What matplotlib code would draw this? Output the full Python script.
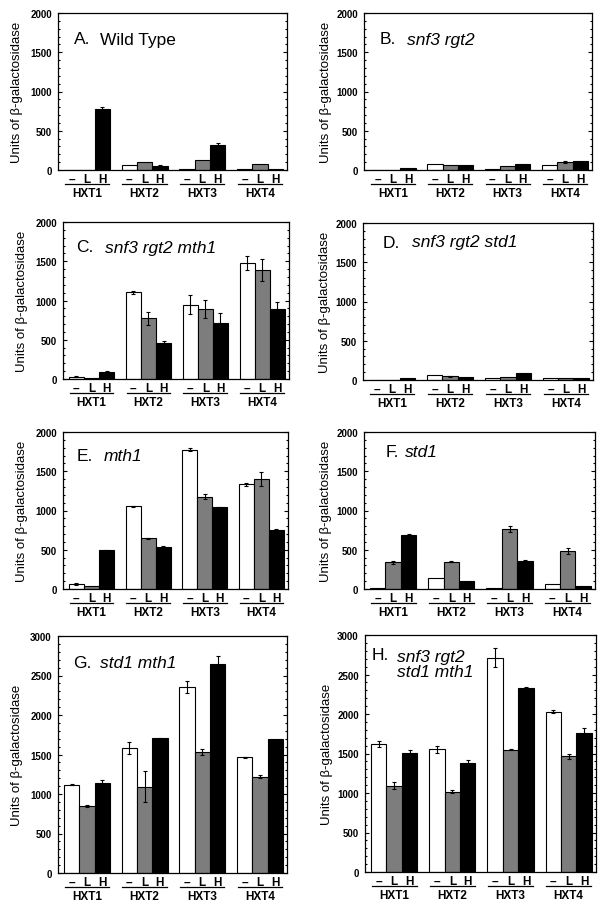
import numpy as np
import matplotlib
matplotlib.use("Agg")
import matplotlib.pyplot as plt
from matplotlib import transforms
from matplotlib.ticker import MultipleLocator

plt.rcParams['font.family'] = ['Liberation Sans', 'DejaVu Sans']

FIG_W, FIG_H = 606, 912

genes = ["HXT1", "HXT2", "HXT3", "HXT4"]
conditions = ["–", "L", "H"]
bar_colors = ["white", "#7d7d7d", "black"]
ylabel = "Units of β-galactosidase"

# rows = genes, cols = (-, L, H)
wt_vals = [[6, 6, 780], [64, 98, 51], [8, 132, 323], [8, 72, 10]]
wt_err = [[0, 0, 28], [0, 0, 10], [0, 0, 25], [0, 0, 0]]

sr_vals = [[0, 0, 20], [82, 62, 62], [10, 50, 80], [58, 98, 118]]
sr_err = [[0, 0, 0], [0, 0, 0], [0, 0, 0], [0, 12, 0]]

srm_vals = [[30, 15, 89], [1102, 771, 462], [949, 894, 716], [1479, 1390, 894]]
srm_err = [[8, 0, 8], [20, 85, 20], [127, 118, 127], [89, 136, 85]]

srs_vals = [[0, 0, 25], [60, 47, 43], [21, 43, 85], [21, 25, 25]]
srs_err = [[0, 0, 0], [0, 10, 0], [0, 0, 0], [0, 0, 0]]

mth_vals = [[59, 34, 491], [1055, 644, 534], [1775, 1178, 1042], [1335, 1402, 754]]
mth_err = [[12, 0, 10], [8, 8, 20], [15, 30, 8], [20, 90, 8]]

std_vals = [[15, 339, 682], [140, 347, 97], [15, 763, 356], [59, 483, 34]]
std_err = [[0, 15, 20], [0, 8, 0], [0, 40, 10], [0, 40, 0]]

sm_vals = [[1120, 846, 1133], [1577, 1090, 1704], [2351, 1535, 2647], [1463, 1218, 1691]]
sm_err = [[10, 15, 40], [76, 195, 10], [75, 40, 95], [8, 20, 0]]

all_vals = [[1624, 1094, 1509], [1552, 1018, 1378], [2714, 1548, 2332], [2031, 1463, 1764]]
all_err = [[40, 40, 35], [45, 20, 35], [120, 10, 15], [15, 30, 55]]

# letter, genotype, values, errors, ymax, axes box in px (left, top, right, bottom),
# title offsets in px (letter x, name x, y below top)
panels = [
    ("A.", "Wild Type", False, wt_vals, wt_err, 2000, (58, 14, 287, 171), (16, 42, 26)),
    ("B.", "snf3 rgt2", True, sr_vals, sr_err, 2000, (364, 14, 592, 171), (16, 43, 26)),
    ("C.", "snf3 rgt2 mth1", True, srm_vals, srm_err, 2000, (63, 223, 289, 380), (13, 42, 25)),
    ("D.", "snf3 rgt2 std1", True, srs_vals, srs_err, 2000, (363, 224, 593, 381), (20, 49, 19)),
    ("E.", "mth1", True, mth_vals, mth_err, 2000, (63, 433, 288, 590), (14, 41, 24)),
    ("F.", "std1", True, std_vals, std_err, 2000, (364, 433, 595, 590), (22, 41, 20)),
    ("G.", "std1 mth1", True, sm_vals, sm_err, 3000, (58, 637, 287, 874), (15, 42, 26)),
    ("H.", "snf3 rgt2\nstd1 mth1", True, all_vals, all_err, 3000, (365, 636, 596, 873), (7, 32, 29)),
]

spacing = 3.77

fig = plt.figure(figsize=(FIG_W / 100, FIG_H / 100), dpi=100)

for letter, name, italic, vals, errs, ymax, box, toff in panels:
    l, t, r, b = box
    ax = fig.add_axes([l / FIG_W, 1 - b / FIG_H, (r - l) / FIG_W, (b - t) / FIG_H])
    w_px, h_px = r - l, b - t
    vals = np.array(vals, dtype=float)
    errs = np.array(errs, dtype=float)

    xs_all = []
    for i in range(3):
        xs = np.arange(len(genes)) * spacing + i
        ax.bar(xs, vals[:, i], width=1.0, color=bar_colors[i], edgecolor="black",
               linewidth=0.8, zorder=2)
        m = errs[:, i] > 0
        if m.any():
            ax.errorbar(xs[m], vals[m, i], yerr=errs[m, i], fmt="none", ecolor="black",
                        elinewidth=0.8, capsize=1.6, capthick=0.8, zorder=3)
        xs_all.append(xs)

    ax.set_ylim(0, ymax)
    ax.set_xlim(-0.89, -0.89 + 14.97)
    ax.yaxis.set_major_locator(MultipleLocator(500))
    ax.yaxis.set_minor_locator(MultipleLocator(100))
    ax.tick_params(axis="y", which="both", direction="in", left=True, right=True,
                   labelsize=7, pad=4.5, width=0.8)
    ax.tick_params(axis="y", which="major", length=3)
    ax.tick_params(axis="y", which="minor", length=1.6)
    for lab in ax.get_yticklabels():
        lab.set_fontweight("bold")
    for sp in ax.spines.values():
        sp.set_linewidth(0.9)

    ticks = np.sort(np.concatenate(xs_all))
    ax.set_xticks(ticks)
    ax.set_xticklabels(conditions * len(genes), fontsize=8.5, fontweight="bold")
    ax.tick_params(axis="x", length=0, pad=2)

    ax.set_ylabel(ylabel, fontsize=9.5)
    ax.yaxis.set_label_coords(-(35 if l < 300 else 32) / w_px, 0.5)

    trans = transforms.blended_transform_factory(ax.transData, ax.transAxes)
    for g, gene in enumerate(genes):
        x0 = g * spacing - 0.45
        x1 = g * spacing + 2.45
        ax.plot([x0, x1], [-14 / h_px, -14 / h_px], color="black", lw=0.9,
                transform=trans, clip_on=False)
        ax.text((x0 + x1) / 2, -23 / h_px, gene, transform=trans, ha="center",
                va="center", fontsize=8.5, fontweight="bold")

    lx, nx, ty = toff
    ax.annotate(letter, xy=(0, 1), xycoords="axes fraction",
                xytext=(lx * 0.72, -ty * 0.72 if "\n" not in name else -19 * 0.72),
                textcoords="offset points", ha="left", va="center", fontsize=12.5)
    ax.annotate(name, xy=(0, 1), xycoords="axes fraction",
                xytext=(nx * 0.72, -ty * 0.72), textcoords="offset points",
                ha="left", va="center", fontsize=12.5,
                style="italic" if italic else "normal", linespacing=1.05)

fig.savefig("out.png", dpi=100)
